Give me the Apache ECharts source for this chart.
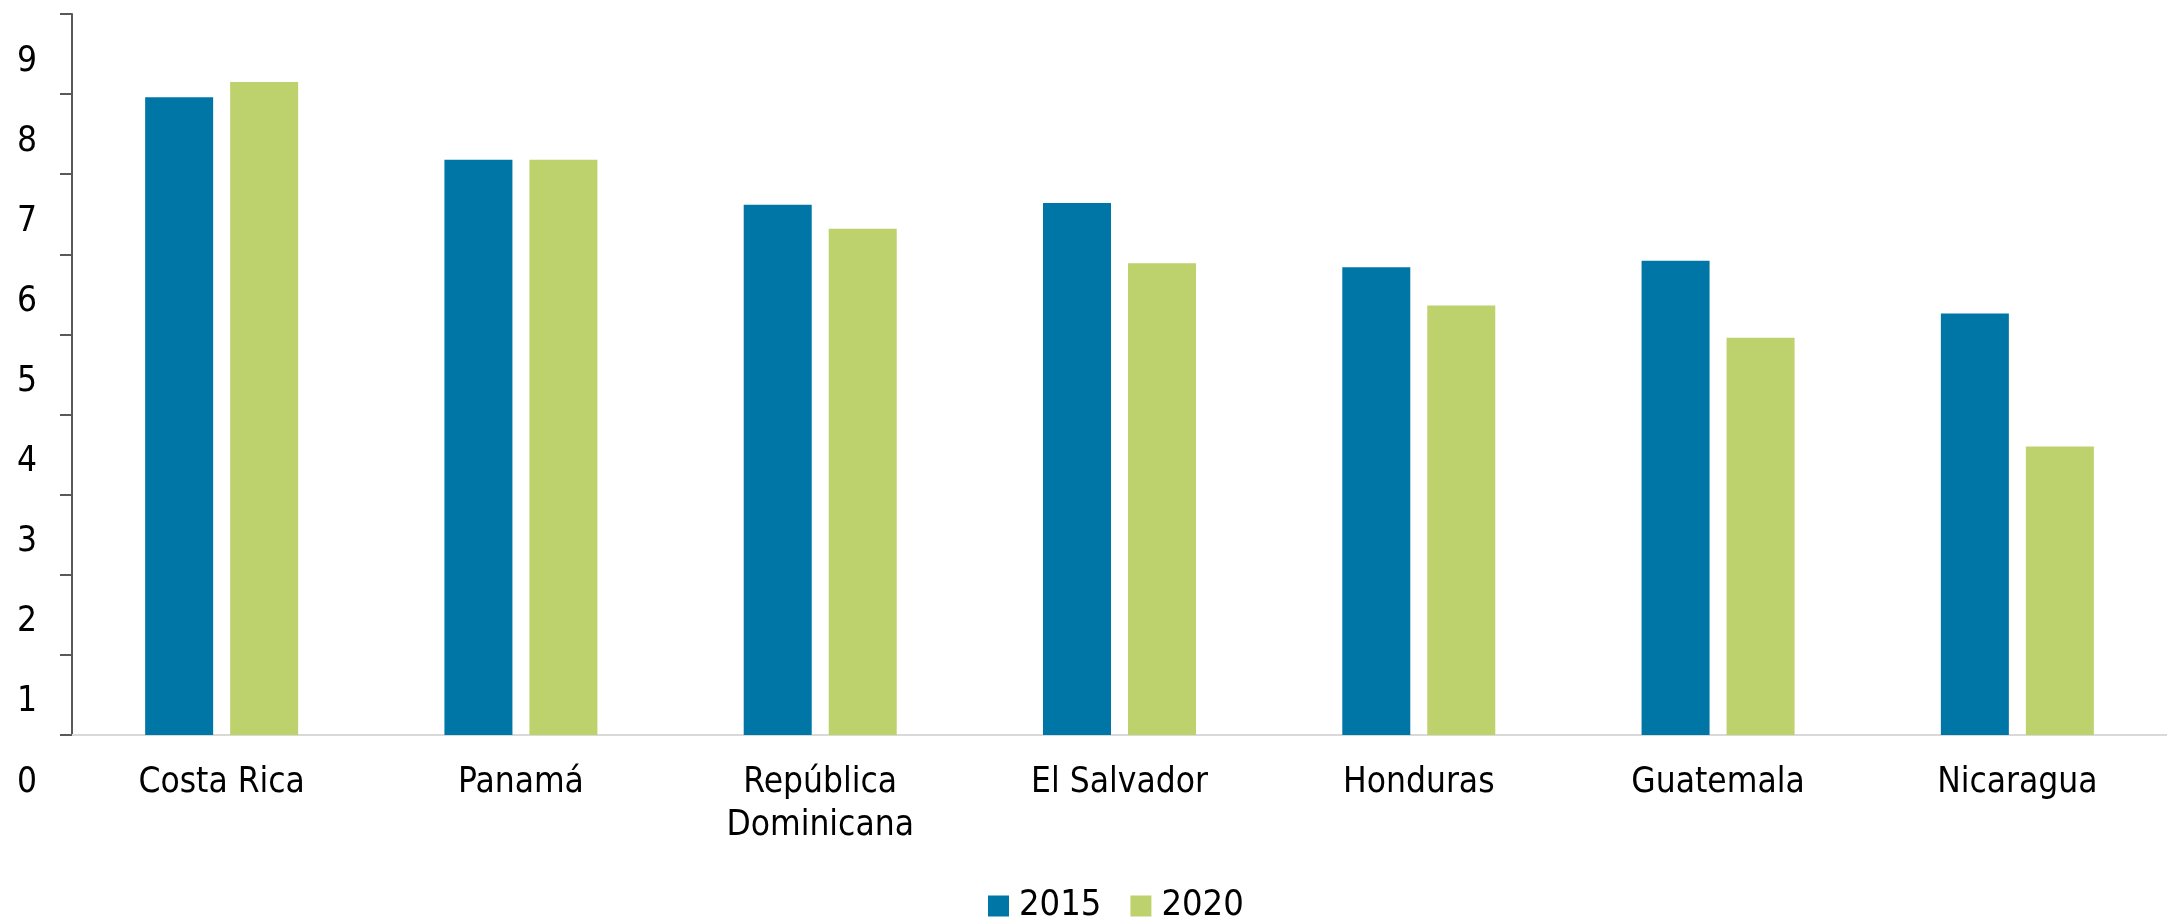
<!DOCTYPE html>
<html>
<head>
<meta charset="utf-8">
<script src="https://cdn.jsdelivr.net/npm/echarts@6/dist/echarts.min.js"></script>
<style>
  html, body { margin: 0; padding: 0; background: #fff; }
  #chart { width: 2167px; height: 918px; }
</style>
</head>
<body>
<div id="chart"></div>
<script>
// datos
var categories = ['Costa Rica', 'Panamá', 'República\nDominicana', 'El Salvador', 'Honduras', 'Guatemala', 'Nicaragua'];
var seriesNames = ['2015', '2020'];
var values2015 = [7.96, 7.18, 6.62, 6.64, 5.84, 5.92, 5.26];
var values2020 = [8.15, 7.18, 6.32, 5.89, 5.36, 4.96, 3.60];

var font = "'DejaVu Sans Condensed', 'DejaVu Sans', sans-serif";
var blue = '#0076A6';
var green = '#BDD16C';

var chart = echarts.init(document.getElementById('chart'));
chart.setOption({
    animation: false,
    grid: { left: 72, right: -14, top: 14, bottom: 183, containLabel: false },
    legend: {
        data: seriesNames,
        left: 983,
        top: 883,
        itemWidth: 21,
        itemHeight: 21,
        itemGap: 29,
        icon: 'rect',
        textStyle: { fontFamily: font, fontSize: 36, color: '#000', padding: [0, 0, 0, 5] }
    },
    xAxis: {
        type: 'category',
        data: categories,
        axisLine: { lineStyle: { color: '#d9d9d9', width: 2 } },
        axisTick: { show: false },
        axisLabel: {
            fontFamily: font, fontSize: 35, color: '#000',
            lineHeight: 43, margin: 26, interval: 0
        }
    },
    yAxis: {
        type: 'value',
        min: 0, max: 9, interval: 1,
        splitLine: { show: false },
        axisLine: { show: true, lineStyle: { color: '#595959', width: 2 } },
        axisTick: { show: true, length: 12, lineStyle: { color: '#595959', width: 2 } },
        axisLabel: {
            margin: 35, verticalAlign: 'top', align: 'right',
            showMinLabel: true, showMaxLabel: true,
            // una línea vacía arriba empuja el número hacia abajo, como en el original
            formatter: '{s| }\n{v|{value}}',
            rich: {
                s: { fontFamily: font, fontSize: 10, lineHeight: 25 },
                v: { fontFamily: font, fontSize: 35, color: '#000', lineHeight: 45 }
            }
        }
    },
    series: [
        { name: seriesNames[0], type: 'bar', data: values2015, barWidth: 68, barGap: '25%', itemStyle: { color: blue } },
        { name: seriesNames[1], type: 'bar', data: values2020, barWidth: 68, barGap: '25%', itemStyle: { color: green } }
    ]
});
</script>
</body>
</html>
